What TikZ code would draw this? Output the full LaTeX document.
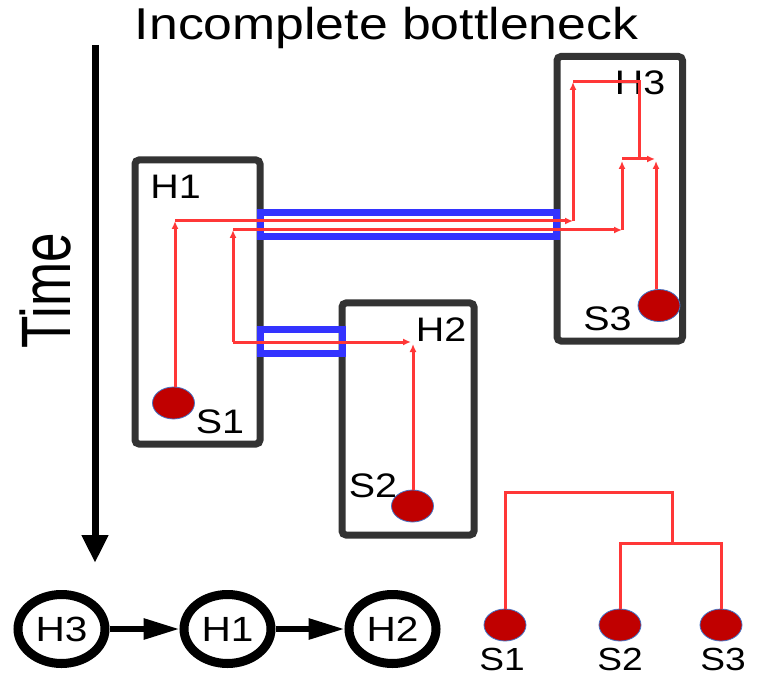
\documentclass[tikz,border=0pt]{standalone}
\usepackage{fontspec}
\setmainfont{Liberation Sans}[FakeStretch=1.16]
\newfontfamily\timefont{Liberation Sans}
\usetikzlibrary{arrows.meta, positioning, shapes.geometric}
\definecolor{boxgray}{RGB}{51,51,51}
\definecolor{neckblue}{RGB}{51,51,255}
\definecolor{pathred}{RGB}{255,55,55}
\definecolor{seedred}{RGB}{192,0,0}
\definecolor{seedrim}{RGB}{68,114,196}

\begin{document}
\begin{tikzpicture}[x=0.5pt, y=-0.5pt, font=\fontsize{17}{20}\selectfont,
    hostbox/.style={draw=boxgray, line width=3.5pt, rounded corners=2pt, inner sep=0pt},
    neck/.style={draw=neckblue, line width=3.5pt, inner sep=0pt},
    seed/.style={ellipse, draw=seedrim, line width=0.4pt, fill=seedred, minimum width=21pt, minimum height=16pt, inner sep=0pt},
    lbl/.style={anchor=base, inner sep=0pt},
    tr/.style={draw=pathred, line width=1.5pt},
    tra/.style={tr, -{Latex[length=4pt, width=3.5pt]}},
    host/.style={ellipse, draw=black, line width=4.5pt, minimum width=43.5pt, minimum height=34.5pt, inner sep=0pt, font=\fontsize{17.5}{20}\selectfont},
    big/.style={line width=3pt, -{Triangle[length=18pt, width=10pt]}}]
  \useasboundingbox (0,0) rectangle (759,678);

  \node[lbl, font=\fontsize{22.3}{26}\selectfont] (title) at (386.5,40) {Incomplete bottleneck};

  % time axis
  \coordinate (tt) at (95,45);
  \coordinate (tb) at (95,563);
  \draw[line width=3.5pt, -{Triangle[length=14pt, width=12.5pt]}] (tt) -- (tb);
  \node[rotate=90, inner sep=0pt] (time) at (45,291) {\timefont\fontsize{26.5}{30}\selectfont\scalebox{1}[1.32]{Time}};

  % hosts
  \node[hostbox, minimum width=62.5pt, minimum height=142pt] (box1) at (197.5,302) {};
  \node[hostbox, minimum width=66pt, minimum height=116pt] (box2) at (408,419) {};
  \node[hostbox, minimum width=62.75pt, minimum height=142.25pt] (box3) at (619.75,198.75) {};
  \node[neck, minimum width=148pt, minimum height=12pt] (neckA) at (408.5,224.5) {};
  \node[neck, minimum width=41pt, minimum height=12pt] (neckB) at (301.5,341.5) {};

  \node[lbl] (h1) at (175.5,199) {H1};
  \node[lbl] (h2) at (441,342) {H2};
  \node[lbl] (h3) at (640,95) {H3};
  \node[lbl] (l1) at (220,433) {S1};
  \node[lbl] (l2) at (373,497) {S2};
  \node[lbl] (l3) at (607.5,330) {S3};

  \node[seed] (s1) at (173.5,403) {};
  \node[seed] (s2) at (412.5,506) {};
  \node[seed] (s3) at (659,305.5) {};

  % traced paths
  \coordinate (a1) at (175,221);
  \coordinate (a2) at (573,221);
  \coordinate (a3) at (573,82);
  \coordinate (a4) at (639,82);
  \coordinate (a5) at (639,159);
  \coordinate (j1) at (622,159);
  \coordinate (j2) at (655,159);
  \coordinate (j3) at (656,161);
  \coordinate (c1) at (233,230);
  \coordinate (c2) at (622,230);
  \coordinate (c3) at (622,161);
  \coordinate (d1) at (233,342);
  \coordinate (d2) at (411,342);
  \coordinate (d3) at (413,344);

  \draw[tra] (s1.north -| a1) -- (a1);
  \draw[tra] (a1) -- (a2);
  \draw[tra] (a2) -- (a3);
  \draw[tr] (a3) -- (a4) -- (a5);
  \draw[tra] (j1) -- (j2);
  \draw[tra] (s3.north -| j3) -- (j3);
  \draw[tra] (c1) -- (c2);
  \draw[tra] (c2) -- (c3);
  \draw[tra] (d1) -- (c1);
  \draw[tra] (d1) -- (d2);
  \draw[tra] (s2.north -| d3) -- (d3);

  % order of hosts
  \node[host] (e3) at (61.5,629) {H3};
  \node[host] (e1) at (227.5,629) {H1};
  \node[host] (e2) at (392.5,629) {H2};
  \draw[big] (e3) -- (e1);
  \draw[big] (e1) -- (e2);

  % merge tree
  \node[seed] (t1) at (505,625) {};
  \node[seed] (t2) at (620,625) {};
  \node[seed] (t3) at (721,625) {};
  \coordinate (m1) at (672,492);
  \coordinate (m2) at (672,543);
  \draw[tr] (t1.north) |- (m1) -- (m2);
  \draw[tr] (t2.north) |- (m2) -| (t3.north);
  \node[lbl, font=\fontsize{16}{18}\selectfont] (n1) at (502,670) {S1};
  \node[lbl, font=\fontsize{16}{18}\selectfont] (n2) at (620,670) {S2};
  \node[lbl, font=\fontsize{16}{18}\selectfont] (n3) at (723,670) {S3};
\end{tikzpicture}
\end{document}
